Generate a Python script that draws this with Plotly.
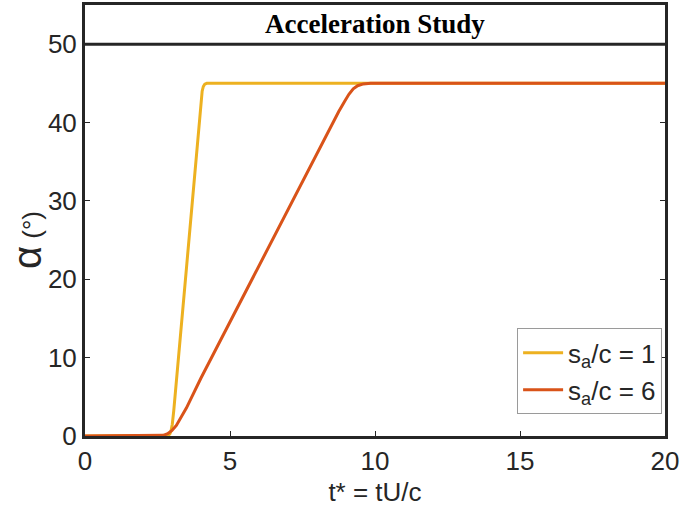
import plotly.graph_objects as go

# Data
t_sa1 = [0, 2.8, 2.88, 2.93, 2.97, 3.01, 3.06, 3.5, 3.9, 3.96, 4.0, 4.04, 4.08, 4.13, 4.2, 20]
alpha_sa1 = [0, 0, 0.08, 0.3, 0.7, 1.5, 3.2, 21.5, 38.2, 40.9, 42.7, 44.0, 44.6, 44.9, 45, 45]

t_sa6 = [0, 2.5, 2.7, 2.85, 3.0, 3.15, 3.3, 3.5, 4, 5, 6, 7, 8, 8.5, 8.75, 8.95, 9.1, 9.25, 9.4, 9.6, 9.85, 20]
alpha_sa6 = [0, 0, 0.08, 0.3, 0.7, 1.35, 2.3, 3.6, 7.4, 14.6, 21.8, 29.0, 36.2, 39.7, 41.4, 42.7, 43.6, 44.3, 44.7, 44.93, 45, 45]

series_names = ["s<sub>a</sub>/c = 1", "s<sub>a</sub>/c = 6"]
colors = ["#EDB120", "#D95319"]

x_ticks = [0, 5, 10, 15, 20]
y_ticks = [0, 10, 20, 30, 40, 50]
title_text = "Acceleration Study"

AX = "#262626"
FONT = "Liberation Sans, Arial, sans-serif"

fig = go.Figure()
fig.add_trace(go.Scatter(x=t_sa1, y=alpha_sa1, mode="lines", name=series_names[0],
                         line=dict(color=colors[0], width=3)))
fig.add_trace(go.Scatter(x=t_sa6, y=alpha_sa6, mode="lines", name=series_names[1],
                         line=dict(color=colors[1], width=3)))

fig.update_layout(
    width=683, height=519,
    margin=dict(l=85, r=18, t=5, b=83, autoexpand=False),
    paper_bgcolor="white", plot_bgcolor="white",
    font=dict(family=FONT, size=26, color=AX),
    showlegend=True,
    legend=dict(x=0.995, y=0.05, xanchor="right", yanchor="bottom",
                bgcolor="white", bordercolor="#9a9a9a", borderwidth=1,
                font=dict(size=26, color=AX, family=FONT),
                tracegroupgap=0, itemwidth=40),
    xaxis=dict(range=[0, 20], tickvals=x_ticks, ticks="inside", ticklen=5,
               tickcolor=AX, showgrid=False, zeroline=False, automargin=False,
               showline=True, linecolor=AX, linewidth=3, mirror=True,
               tickfont=dict(size=26, color=AX),
               title=dict(text="t* = tU/c", font=dict(size=26, color=AX), standoff=8)),
    yaxis=dict(range=[0, 55], tickvals=y_ticks, ticks="inside", ticklen=5,
               tickcolor=AX, showgrid=False, zeroline=False, automargin=False,
               showline=True, linecolor=AX, linewidth=3, mirror="ticks",
               tickfont=dict(size=26, color=AX)),
)

# horizontal line separating title band
fig.add_shape(type="line", xref="paper", yref="y", x0=0, x1=1, y0=50, y1=50,
              line=dict(color=AX, width=3))

# title inside the band
fig.add_annotation(text="<b>" + title_text + "</b>", xref="paper", yref="y",
                   x=0.5, y=52.6, showarrow=False, xanchor="center", yanchor="middle",
                   font=dict(family="Liberation Serif, Times New Roman, serif", size=27, color="black"))

# y-axis title centered on 0..50 region
fig.add_annotation(text="<span style='font-size:40px'>α</span> (°)", xref="paper", yref="y",
                   x=-0.1, y=25, showarrow=False, textangle=-90,
                   xanchor="center", yanchor="middle",
                   font=dict(family=FONT, size=26, color=AX))

fig.write_html("out.html", config={"displayModeBar": False},
               post_script="document.body.style.margin='0';")
